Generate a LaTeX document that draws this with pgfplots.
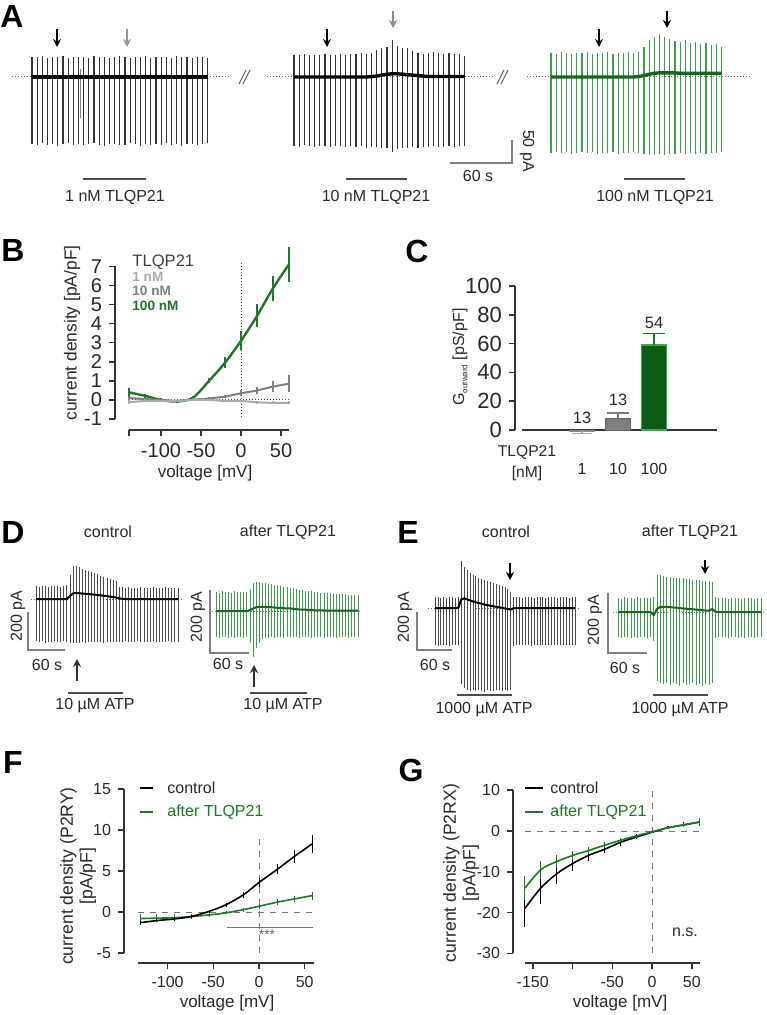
\documentclass[border=0pt]{standalone}
\usepackage{fontspec}
\setmainfont{Liberation Sans}
\usepackage{pgfplots}
\pgfplotsset{compat=1.18}
\usepackage{pgfplotstable}
\usetikzlibrary{arrows.meta}
\definecolor{grn}{HTML}{1B7A27}
\definecolor{trg}{HTML}{3E9E4B}
\definecolor{trgd}{HTML}{17651F}
\definecolor{barg}{HTML}{0C5C16}
\definecolor{bargl}{HTML}{45A64E}
\definecolor{lgr}{HTML}{AAAAAA}
\definecolor{mgr}{HTML}{7F7F7F}
\definecolor{txt}{HTML}{2A2A2A}
\newcommand{\fs}[1]{\fontsize{#1}{#1}\selectfont}

\pgfplotsset{
 trace/.style={anchor=origin, axis lines=none, enlargelimits=false, clip=false, ticks=none},
 iv/.style={anchor=origin, enlargelimits=false, clip=false,
   axis x line*=bottom, axis y line*=left,
   axis line style={line width=0.75pt, color=black!80},
   tick style={line width=0.75pt, color=black!80},
   tick align=outside, major tick length=3pt,
   tick label style={font=\fs{8}, color=txt},
   /pgf/number format/assume math mode=true, scaled ticks=false},
 gap/.style 2 args={x axis line style={shorten <=#1}, y axis line style={shorten <=#2}},
}

% ---------- traces: t [s], top, bottom, holding [pA]
\pgfplotstableread{
t top bot base
0 44 -146 0
5 43 -148 0
10 45 -144 0
15 42 -147 0
20 44 -145 0
25 43 -149 0
30 45 -146 0
35 42 -144 0
40 44 -147 0
45 43 -145 0
50 44 -148 0
55 42 -146 0
60 45 -144 0
65 43 -147 0
70 44 -149 0
75 42 -145 0
80 43 -146 0
85 45 -148 0
90 43 -147 0
95 42 -144 0
100 44 -146 0
105 43 -149 0
110 45 -145 0
115 42 -147 0
120 44 -146 0
125 43 -148 0
130 44 -144 0
135 42 -147 0
140 45 -145 0
145 43 -149 0
150 44 -146 0
155 42 -145 0
160 43 -147 0
165 44 -146 0
170 42 -144 0
}\tAa
\pgfplotstableread{
t top bot base
0 48 -150 0
5 47 -152 0
10 49 -148 0
15 48 -151 0
20 47 -153 0
25 48 -150 0
30 49 -149 0
35 47 -152 0
40 48 -150 0
45 49 -151 0
50 48 -153 0
55 50 -150 0
60 49 -152 0
65 52 -151 0
70 50 -154 0
75 52 -152 1
80 59 -153 2
85 63 -155 4
90 66 -154 6
95 80 -163 7
100 68 -156 7
105 64 -155 6
110 62 -154 5
115 56 -153 4
120 53 -154 3
125 49 -152 2
130 53 -153 1
135 55 -151 1
140 52 -152 1
145 49 -153 1
150 53 -151 1
155 49 -152 1
160 49 -150 1
165 45 -151 1
}\tAb
\pgfplotstableread{
t top bot base
0 53 -165 0
5 51 -163 0
10 54 -166 0
15 52 -164 0
20 50 -167 0
25 53 -165 0
30 52 -163 0
35 54 -166 0
40 51 -164 0
45 53 -168 0
50 52 -165 0
55 54 -166 0
60 51 -164 0
65 53 -167 0
70 52 -165 0
75 54 -166 0
80 53 -164 0
85 55 -166 1
90 66 -167 3
95 80 -169 6
100 88 -170 8
105 93 -168 9
110 86 -169 9
115 82 -167 9
120 78 -168 9
125 76 -166 8
130 80 -167 8
135 73 -166 8
140 75 -168 8
145 71 -165 8
150 73 -167 8
155 69 -166 8
160 71 -165 8
165 66 -164 8
}\tAc
\pgfplotstableread{
t top bot base
0 65 -212 0
5 62 -215 0
10 66 -210 0
15 64 -218 0
20 60 -213 0
25 65 -216 0
30 63 -211 0
35 66 -214 0
40 62 -217 0
45 64 -212 0
50 70 -215 0
55 120 -220 15
60 165 -222 28
65 166 -218 30
70 160 -220 29
75 152 -216 27
80 147 -218 26
85 142 -214 25
90 136 -217 23
95 128 -213 22
100 124 -216 20
105 116 -214 18
110 112 -219 16
115 106 -215 14
120 100 -217 12
125 96 -213 10
130 90 -215 7
135 62 -214 3
140 58 -216 1
145 56 -212 0
150 58 -215 0
155 55 -213 0
160 57 -216 0
165 56 -212 0
170 58 -214 0
175 55 -217 0
180 57 -213 0
185 56 -215 0
190 58 -212 0
195 55 -216 0
200 57 -214 0
205 56 -213 0
210 58 -215 0
215 55 -212 0
220 57 -216 0
225 56 -214 0
230 55 -213 0
}\tDa
\pgfplotstableread{
t top bot base
0 60 -83 0
5 58 -85 0
10 62 -82 0
15 59 -84 0
20 61 -86 0
25 58 -83 0
30 62 -85 0
35 60 -82 0
40 59 -84 0
45 61 -86 0
50 60 -83 0
55 70 -100 3
60 88 -146 8
65 92 -117 12
70 91 -101 13
75 89 -90 13
80 88 -86 13
85 86 -85 12
90 85 -84 12
95 83 -85 11
100 81 -84 10
105 79 -83 10
110 77 -85 9
115 76 -84 8
120 74 -83 8
125 72 -84 7
130 70 -83 6
135 68 -85 5
140 67 -84 4
145 65 -83 4
150 63 -84 3
155 62 -85 3
160 60 -83 2
165 60 -84 2
170 58 -82 2
175 57 -85 2
180 57 -83 1
185 56 -84 1
190 55 -82 1
195 55 -85 1
200 54 -83 1
205 53 -84 1
210 53 -82 1
215 52 -85 1
220 51 -83 1
225 51 -84 1
230 50 -82 1
}\tDb
\pgfplotstableread{
t top bot base
0 56 -195 0
5 58 -198 0
10 54 -193 0
15 57 -197 0
20 55 -194 0
25 59 -199 0
30 56 -195 0
35 54 -196 0
40 58 -194 0
45 247 -400 45
50 215 -420 50
55 200 -430 45
60 185 -435 40
65 175 -432 35
70 166 -438 30
75 160 -430 26
80 154 -435 22
85 148 -440 18
90 143 -432 15
95 138 -436 12
100 132 -438 9
105 128 -430 6
110 122 -434 4
115 116 -437 1
120 108 -432 -2
125 100 -435 -5
130 86 -430 -8
135 60 -200 0
140 56 -195 0
145 58 -197 0
150 55 -194 0
155 57 -196 0
160 56 -193 0
165 59 -198 0
170 55 -195 0
175 57 -196 0
180 56 -194 0
185 58 -197 0
190 55 -195 0
195 57 -193 0
200 56 -196 0
205 58 -194 0
210 55 -197 0
215 57 -195 0
220 56 -193 0
225 58 -196 0
230 55 -194 0
235 57 -197 0
240 56 -195 0
}\tEa
\pgfplotstableread{
t top bot base
0 47 -83 0
5 45 -85 0
10 49 -82 0
15 46 -84 0
20 48 -86 0
25 45 -83 0
30 49 -85 0
35 47 -82 0
40 46 -84 0
45 48 -86 0
50 47 -83 0
55 50 -95 -10
60 123 -230 10
65 122 -235 17
70 120 -240 17
75 118 -238 17
80 117 -242 16
85 115 -236 15
90 114 -240 14
95 113 -245 13
100 112 -238 12
105 110 -243 11
110 110 -240 10
115 108 -236 9
120 107 -242 8
125 106 -239 7
130 105 -245 6
135 104 -240 5
140 103 -244 4
145 100 -238 10
150 50 -85 1
155 47 -83 0
160 46 -84 0
165 48 -82 0
170 45 -85 0
175 47 -83 0
180 46 -84 0
185 48 -86 0
190 45 -83 0
195 47 -85 0
200 46 -82 0
205 48 -84 0
210 45 -86 0
215 47 -83 0
220 46 -84 0
}\tEb

% ---------- I-V data: v [mV], y [pA/pF], e (SEM)
\pgfplotstableread{
v y e
-140 0.40 0.23
-120 0.22 0.12
-100 0.00 0.08
-80 -0.08 0.08
-60 0.12 0.08
-40 1.00 0.13
-20 1.95 0.28
0 3.10 0.50
20 4.40 0.60
40 5.85 0.65
60 7.10 0.90
}\tBg
\pgfplotstableread{
v y e
-140 0.10 0.10
-120 0.05 0.08
-100 0.00 0.06
-80 -0.05 0.06
-60 0.02 0.06
-40 0.08 0.08
-20 0.18 0.10
0 0.35 0.15
20 0.50 0.20
40 0.70 0.30
60 0.85 0.45
}\tBm
\pgfplotstableread{
v y e
-140 -0.12 0.10
-120 -0.05 0.08
-100 -0.05 0.06
-80 -0.05 0.05
-60 0.00 0.05
-40 0.00 0.05
-20 -0.05 0.05
0 -0.05 0.06
20 -0.12 0.07
40 -0.15 0.08
60 -0.15 0.08
}\tBl
\pgfplotstableread{
v y e
-130 -1.30 0.25
-112 -1.05 0.20
-93 -0.85 0.20
-74 -0.55 0.20
-54 0.10 0.20
-36 0.90 0.25
-17 2.10 0.35
0 3.60 0.50
20 5.20 0.60
39 6.80 0.80
58 8.30 1.10
}\tFc
\pgfplotstableread{
v y e
-130 -0.80 0.50
-112 -0.75 0.45
-93 -0.70 0.40
-74 -0.55 0.30
-54 -0.35 0.25
-36 -0.10 0.20
-17 0.30 0.25
0 0.70 0.30
20 1.20 0.35
39 1.60 0.40
58 2.00 0.50
}\tFt
\pgfplotstableread{
v y e
-160 -19.0 4.5
-140 -14.0 3.8
-120 -10.5 2.5
-100 -8.0 1.8
-80 -6.0 1.3
-60 -4.5 1.0
-40 -2.8 0.8
-20 -1.5 0.5
0 -0.3 0.3
20 0.8 0.4
40 1.5 0.6
60 2.2 1.0
}\tGc
\pgfplotstableread{
v y e
-160 -14.0 3.0
-140 -9.5 2.2
-120 -7.5 1.5
-100 -6.0 1.2
-80 -4.8 0.9
-60 -3.5 0.7
-40 -2.3 0.5
-20 -1.2 0.4
0 -0.2 0.3
20 0.8 0.3
40 1.5 0.5
60 2.2 0.9
}\tGt

\newcommand{\spikes}[3]{% table, colour, width
 \addplot[only marks, mark=*, mark size=0pt, mark options={draw=none, fill=none},
   error bars/.cd, y dir=both, y explicit, error mark=none,
   error bar style={line width=#3, draw=#2}]
   table[x=t, y=base, y error plus expr=\thisrow{top}-\thisrow{base},
         y error minus expr=\thisrow{base}-\thisrow{bot}] {#1};}

\begin{document}
\begin{tikzpicture}[x=0.5pt,y=-0.5pt]
\fill[white] (0,0) rectangle (766,1015);
\useasboundingbox (0,0) rectangle (766,1015);

% ================= A =================
\begin{axis}[trace, at={(16pt,-38.5pt)}, x=0.5165pt, y=0.23pt, xmin=-30, xmax=200, ymin=-180, ymax=110]
 \addplot[densely dotted, line width=0.5pt, black!60, mark=none] coordinates {(-19.4,0) (191.7,0)};
 \spikes{\tAa}{black!80}{0.55pt}
 \addplot[only marks, mark=*, mark size=0pt, mark options={draw=none, fill=none},
   error bars/.cd, y dir=both, y explicit, error mark=none,
   error bar style={line width=0.55pt, draw=black!50}] coordinates {(47,0) += (0,18) -= (0,90)};
 \addplot[black, line width=1.7pt, mark=none] table[x=t, y=base] {\tAa};
\end{axis}
\begin{axis}[trace, at={(147pt,-38.5pt)}, x=0.5165pt, y=0.23pt, xmin=-30, xmax=200, ymin=-180, ymax=110]
 \addplot[densely dotted, line width=0.5pt, black!60, mark=none] coordinates {(-26.1,0) (192.6,0)};
 \spikes{\tAb}{black!80}{0.55pt}
 \addplot[black, line width=1.7pt, mark=none] table[x=t, y=base] {\tAb};
\end{axis}
\begin{axis}[trace, at={(275.5pt,-38.5pt)}, x=0.5165pt, y=0.23pt, xmin=-30, xmax=200, ymin=-180, ymax=110]
 \addplot[densely dotted, line width=0.5pt, black!60, mark=none] coordinates {(-23.2,0) (192.6,0)};
 \spikes{\tAc}{trg}{0.55pt}
 \addplot[trgd, line width=1.7pt, mark=none] table[x=t, y=base] {\tAc};
\end{axis}

% ================= D =================
\begin{axis}[trace, at={(18pt,-299.5pt)}, x=0.3085pt, y=0.1pt, xmin=-10, xmax=240, ymin=-250, ymax=200]
 \addplot[densely dotted, line width=0.5pt, black!60, mark=none] coordinates {(-8,0) (238,0)};
 \spikes{\tDa}{black!70}{0.4pt}
 \addplot[black, line width=1pt, mark=none] table[x=t, y=base] {\tDa};
\end{axis}
\begin{axis}[trace, at={(108pt,-305.5pt)}, x=0.3085pt, y=0.1575pt, xmin=-10, xmax=240, ymin=-160, ymax=110]
 \addplot[densely dotted, line width=0.5pt, black!60, mark=none] coordinates {(-6,0) (234,0)};
 \spikes{\tDb}{trg}{0.4pt}
 \addplot[trgd, line width=1pt, mark=none] table[x=t, y=base] {\tDb};
\end{axis}

% ================= E =================
\begin{axis}[trace, at={(217.5pt,-304pt)}, x=0.2915pt, y=0.095pt, xmin=-15, xmax=250, ymin=-460, ymax=270]
 \addplot[densely dotted, line width=0.5pt, black!60, mark=none] coordinates {(-12,0) (246,0)};
 \spikes{\tEa}{black!70}{0.4pt}
 \addplot[black, line width=1pt, mark=none] table[x=t, y=base] {\tEa};
\end{axis}
\begin{axis}[trace, at={(309pt,-306pt)}, x=0.325pt, y=0.15pt, xmin=-10, xmax=230, ymin=-260, ymax=140]
 \addplot[densely dotted, line width=0.5pt, black!60, mark=none] coordinates {(-8,0) (227,0)};
 \spikes{\tEb}{trg}{0.4pt}
 \addplot[trgd, line width=1pt, mark=none] table[x=t, y=base] {\tEb};
\end{axis}

% ================= B =================
\begin{axis}[iv, gap={7pt}{5.45pt}, at={(120.5pt,-200pt)}, x=0.4pt, y=9.55pt, xmin=-157.5, xmax=60, ymin=-1.571, ymax=7,
  xtick={-140,-100,-50,0,50}, xticklabels={,-100,-50,0,50}, ytick={-1,0,...,7},
  tick label style={font=\fs{10}}]
 \addplot[densely dotted, black!70, line width=0.5pt] coordinates {(0,-0.9) (0,7.2)};
 \addplot[densely dotted, black!70, line width=0.5pt] coordinates {(-140,0) (60,0)};
 \addplot[grn, line width=1.2pt, smooth, error bars/.cd, y dir=both, y explicit, error mark=none,
   error bar style={line width=1.2pt, grn}] table[x=v, y=y, y error=e] {\tBg};
 \addplot[mgr, line width=1pt, smooth, error bars/.cd, y dir=both, y explicit, error mark=none,
   error bar style={line width=1pt, mgr}] table[x=v, y=y, y error=e] {\tBm};
 \addplot[lgr, line width=1pt, smooth, error bars/.cd, y dir=both, y explicit, error mark=none,
   error bar style={line width=1pt, lgr}] table[x=v, y=y, y error=e] {\tBl};
\end{axis}

% ================= C =================
\begin{axis}[anchor=origin, at={(273pt,-215pt)}, x=18pt, y=0.72pt, xmin=-0.861, xmax=4.75, ymin=0, ymax=100,
  enlargelimits=false, clip=false, axis x line*=bottom, axis y line*=left,
  axis line style={line width=0.75pt, black!80}, x axis line style={shorten <=3.5pt},
  tick align=outside, major tick length=3pt,
  xtick={1,2,3}, xticklabels={1,10,100}, xtick style={draw=none},
  ytick={0,20,...,100}, ytick style={line width=0.75pt, black!80},
  yticklabel style={font=\fs{11}, color=txt}, xticklabel style={font=\fs{8}, color=txt, yshift=-10pt},
  /pgf/number format/assume math mode=true]
 \addplot[ybar, bar width=12.5pt, bar shift=0pt, fill=lgr, draw=lgr!80!black, line width=0.5pt,
   error bars/.cd, y dir=minus, y explicit, error mark=|, error mark options={mark size=5pt, line width=0.75pt, lgr},
   error bar style={line width=0.75pt, lgr}] coordinates {(1,-1) -= (0,1.5)};
 \addplot[ybar, bar width=12.5pt, bar shift=0pt, fill=mgr, draw=black!60, line width=0.5pt,
   error bars/.cd, y dir=plus, y explicit, error mark=|, error mark options={mark size=5.5pt, line width=0.75pt, mgr},
   error bar style={line width=0.75pt, mgr}] coordinates {(2,8.3) += (0,3.4)};
 \addplot[ybar, bar width=12.5pt, bar shift=0pt, fill=barg, draw=bargl, line width=0.6pt,
   error bars/.cd, y dir=plus, y explicit, error mark=|, error mark options={mark size=5.5pt, line width=0.75pt, grn},
   error bar style={line width=0.75pt, grn}] coordinates {(3,59) += (0,8)};
\end{axis}

% ================= F =================
\begin{axis}[iv, gap={7pt}{5pt}, at={(129.5pt,-456pt)}, x=0.457pt, y=4.1pt, xmin=-147.7, xmax=60, ymin=-6.22, ymax=15,
  xtick={-100,-50,0,50}, ytick={-5,0,5,10,15}]
 \addplot[dashed, black!55, line width=0.5pt] coordinates {(0,-5) (0,9.6)};
 \addplot[dashed, black!55, line width=0.5pt] coordinates {(-132,0) (60,0)};
 \addplot[grn, line width=0.8pt, smooth, error bars/.cd, y dir=both, y explicit, error mark=none,
   error bar style={line width=0.5pt, grn}] table[x=v, y=y, y error=e] {\tFt};
 \addplot[black, line width=0.8pt, smooth, error bars/.cd, y dir=both, y explicit, error mark=none,
   error bar style={line width=0.5pt, black}] table[x=v, y=y, y error=e] {\tFc};
\end{axis}

% ================= G =================
\begin{axis}[iv, gap={5.9pt}{4.8pt}, at={(326pt,-415.5pt)}, x=0.3975pt, y=2.04pt, xmin=-174.8, xmax=60, ymin=-32.35, ymax=10,
  xtick={-150,-100,-50,0,50}, xticklabels={-150,,-50,0,50}, ytick={-30,-20,...,10}]
 \addplot[dashed, black!55, line width=0.5pt] coordinates {(0,-30) (0,10.3)};
 \addplot[dashed, black!55, line width=0.5pt] coordinates {(-160,0) (60,0)};
 \addplot[black, line width=0.8pt, smooth, error bars/.cd, y dir=both, y explicit, error mark=none,
   error bar style={line width=0.6pt, black}] table[x=v, y=y, y error=e] {\tGc};
 \addplot[grn, line width=0.8pt, smooth, error bars/.cd, y dir=both, y explicit, error mark=none,
   error bar style={line width=0.6pt, grn}] table[x=v, y=y, y error=e] {\tGt};
\end{axis}

% ================= annotations =================
\tikzset{lab/.style={font=\fs{8}, text=txt, inner sep=0pt},
         pl/.style={font=\fs{16}\bfseries, text=black, inner sep=0pt},
         arr/.style={line width=0.6pt, -{Stealth[length=4pt, width=4pt]}}}
\node[pl] at (12,16) {A};
\node[pl] at (13,250) {B};
\node[pl] at (417,251) {C};
\node[pl] at (13,532) {D};
\node[pl] at (408,532) {E};
\node[pl] at (13,762) {F};
\node[pl] at (411,770) {G};

% A
\draw[arr, black] (57,29) -- (57,47);
\draw[arr, black!40] (127,29) -- (127,47);
\draw[arr, black] (327,29) -- (327,47);
\draw[arr, black!45] (393,11) -- (393,28);
\draw[arr, black] (599,29) -- (599,47);
\draw[arr, black] (667,11) -- (667,28);
\draw[black!60, line width=0.5pt] (239,84) -- (246,70) (243,84) -- (250,70);
\draw[black!60, line width=0.5pt] (497,84) -- (504,70) (501,84) -- (508,70);
\draw[black!50, line width=0.7pt] (450,163) -- (512,163) -- (512,140);
\node[lab, rotate=-90] at (527,151) {50 pA};
\node[lab] at (478,176) {60 s};
\draw[black!70, line width=0.8pt] (83,179) -- (146,179) (346,179) -- (407,179) (624,179) -- (685,179);
\node[lab] at (115,197) {1 nM TLQP21};
\node[lab] at (376,197) {10 nM TLQP21};
\node[lab] at (655,197) {100 nM TLQP21};

% B
\node[lab, rotate=90, font=\fs{8.7}] at (72,333) {current density [pA/pF]};
\node[lab, font=\fs{8.5}] at (205,473) {voltage [mV]};
\node[lab, anchor=west, font=\fs{8.3}, text=black!75] at (132,262) {TLQP21};
\node[lab, anchor=west, font=\fs{6.8}\bfseries, text=lgr] at (132,277) {1 nM};
\node[lab, anchor=west, font=\fs{6.8}\bfseries, text=mgr] at (132,291) {10 nM};
\node[lab, anchor=west, font=\fs{6.8}\bfseries, text=grn] at (132,306) {100 nM};

% C
\node[lab, font=\fs{8.2}] at (582,418) {13};
\node[lab, font=\fs{8.2}] at (618,400) {13};
\node[lab, font=\fs{8.2}] at (654,323) {54};
\node[lab, font=\fs{7.8}] at (527,453) {TLQP21};
\node[lab, font=\fs{7.8}] at (527,473) {[nM]};
\node[lab, rotate=90] at (460,357) {G\raisebox{-0.4ex}{\fs{4}outward} [pS/pF]};

% D
\node[lab] at (108,532) {control};
\node[lab] at (288,532) {after TLQP21};
\draw[black!50, line width=0.7pt] (28,612) -- (28,650) -- (65,650);
\node[lab, rotate=90] at (18,616) {200 pA};
\node[lab] at (47,665) {60 s};
\draw[arr, black!80] (77,681) -- (77,659);
\draw[black!70, line width=0.8pt] (68,693) -- (123,693);
\node[lab] at (95,706) {10 µM ATP};
\draw[black!50, line width=0.7pt] (210,590) -- (210,653) -- (249,653);
\node[lab, rotate=90] at (198,617) {200 pA};
\node[lab] at (228,664) {60 s};
\draw[arr, black!80] (254,687) -- (254,665);
\draw[black!70, line width=0.8pt] (250,693) -- (307,693);
\node[lab] at (283,706) {10 µM ATP};

% E
\node[lab] at (506,532) {control};
\node[lab] at (690,532) {after TLQP21};
\draw[black!50, line width=0.7pt] (417,612) -- (417,650) -- (452,650);
\node[lab, rotate=90] at (405,617) {200 pA};
\node[lab] at (435,665) {60 s};
\draw[arr, black] (510,563) -- (510,580);
\draw[black!70, line width=0.8pt] (457,695) -- (512,695);
\node[lab] at (484,710) {1000 µM ATP};
\draw[black!50, line width=0.7pt] (608,593) -- (608,653) -- (647,653);
\node[lab, rotate=90] at (595,620) {200 pA};
\node[lab] at (625,668) {60 s};
\draw[arr, black] (705,560) -- (705,574);
\draw[black!70, line width=0.8pt] (653,695) -- (708,695);
\node[lab] at (680,710) {1000 µM ATP};

% F
\node[lab, rotate=90, align=center, font=\fs{8.8}] at (78,876) {current density (P2RY)\\[1pt][pA/pF]};
\node[lab, font=\fs{8.5}] at (227,1003) {voltage [mV]};
\draw[black, line width=1pt] (140,788) -- (153,788);
\node[lab, anchor=west] at (167,788) {control};
\draw[grn, line width=1pt] (140,812) -- (153,812);
\node[lab, anchor=west, text=grn] at (167,812) {after TLQP21};
\draw[black!55, line width=0.5pt] (227,927) -- (313,927);
\node[lab, text=black!60, font=\fs{7}] at (267,935) {***};

% G
\node[lab, rotate=90, align=center, font=\fs{8.8}] at (461,873) {current density (P2RX)\\[1pt][pA/pF]};
\node[lab, font=\fs{8.5}] at (620,1003) {voltage [mV]};
\draw[black, line width=1pt] (525,788) -- (543,788);
\node[lab, anchor=west] at (550,788) {control};
\draw[grn, line width=1pt] (525,812) -- (543,812);
\node[lab, anchor=west, text=grn] at (550,812) {after TLQP21};
\node[lab] at (685,932) {n.s.};
\end{tikzpicture}
\end{document}
